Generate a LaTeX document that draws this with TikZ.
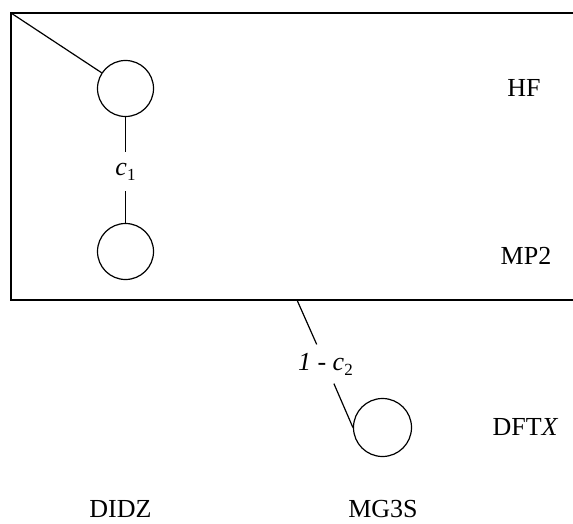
\documentclass[tikz,border=0pt]{standalone}
\usepackage{fontspec}
\setmainfont{Liberation Serif}
\newcommand\mysub[1]{\raisebox{-5pt}{\fontsize{17}{17}\selectfont #1}}
\begin{document}
\begin{tikzpicture}[x=1pt,y=1pt, line width=1.2pt,
  stage/.style={circle, draw, minimum size=56pt, inner sep=0pt},
  lbl/.style={font=\fontsize{26}{30}\selectfont, inner sep=0pt},
  coef/.style={font=\fontsize{26}{30}\selectfont, inner sep=0pt, minimum height=38pt, minimum width=20pt}]
\useasboundingbox (0,0) rectangle (573,523);
% open box (right side outside the picture)
\draw (573,510) -- (11,510) -- (11,223) -- (573,223);
\coordinate (corner) at (11,510);
\coordinate (boxbot) at (297,223);
% stages
\node[stage] (hf) at (125.5,434.5) {};
\node[stage] (mp) at (125.5,271.5) {};
\node[stage, minimum size=58pt] (dft) at (382.5,95.5) {};
% coefficient labels
\node[coef] (c1) at (125.5,351.5) {\textit{c}\mysub{1}};
\node[coef] (c2) at (325.4,159) {\textit{1} - \textit{c}\mysub{2}};
% connectors
\draw (corner) -- (hf);
\draw (hf) -- (c1);
\draw (c1) -- (mp);
\draw (boxbot) -- (c2);
\draw (c2) -- (dft.west);
% method labels
\node[lbl] (lhf) at (524,435) {HF};
\node[lbl] (lmp) at (526,267) {MP2};
\node[lbl] (ldft) at (525.5,95.5) {DFT\textit{X}};
\node[lbl] (lmg) at (383,13.5) {MG3S};
\node[lbl] (ldidz) at (120.5,13.5) {DIDZ};
\end{tikzpicture}
\end{document}
